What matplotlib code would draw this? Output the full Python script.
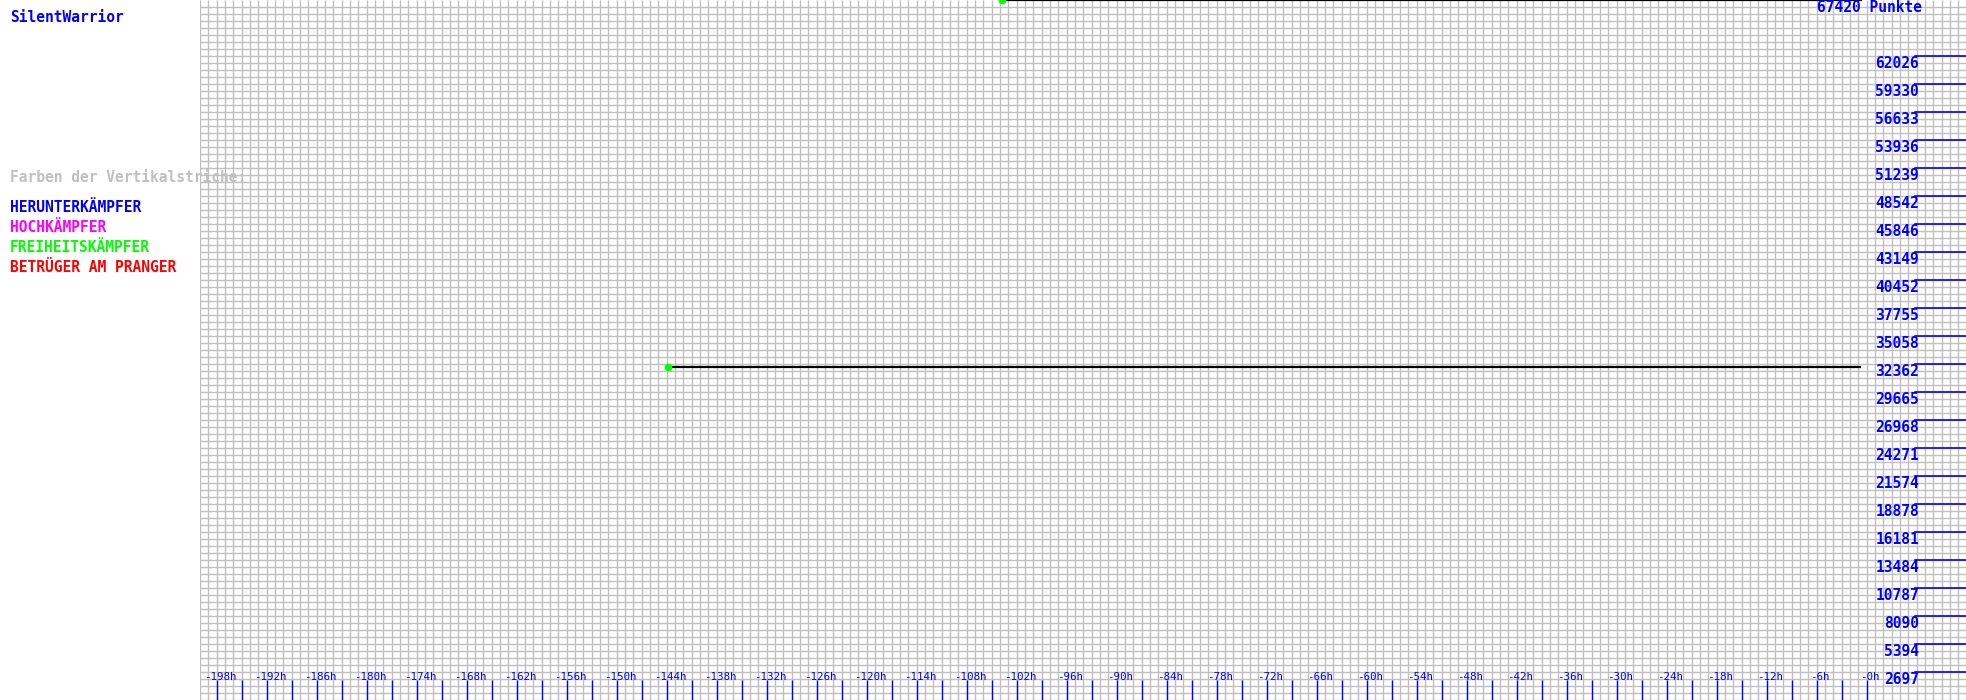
import matplotlib.pyplot as plt
import matplotlib.transforms as mtransforms
import numpy as np

# Player and score
player = "SilentWarrior"
max_points = 67420

# score segments (hours before now, points)
seg_start_h = [-143.8, -103.7]
seg_end_h = [-0.7, -0.5]
seg_points = [32100, 67420]

# right-hand scale labels
y_labels = [2697, 5394, 8090, 10787, 13484, 16181, 18878, 21574, 24271, 26968,
            29665, 32362, 35058, 37755, 40452, 43149, 45846, 48542, 51239,
            53936, 56633, 59330, 62026]

# hour labels along the bottom
x_labels = list(range(-198, 1, 6))

legend_title = "Farben der Vertikalstriche:"
legend_items = ["HERUNTERKÄMPFER", "HOCHKÄMPFER", "FREIHEITSKÄMPFER", "BETRÜGER AM PRANGER"]
legend_colors = ["#0000ff", "#ff00ff", "#00ff00", "#ff0000"]

W, H = 1966, 700
fig = plt.figure(figsize=(19.66, 7.0), dpi=100)
ax = fig.add_axes([200 / W, 0, 1 - 200 / W, 1])
x_min, x_max = -200, -200 + (W - 200) / 8.3333
ax.set_xlim(x_min, x_max)
ax.set_ylim(0, max_points)
ax.axis("off")

mono = "DejaVu Sans Mono"
grid_c = "#c0c0c0"

# background grid: one line per hour, four per scale step
ax.vlines(np.arange(x_min, x_max, 1), 0, max_points, color=grid_c, lw=1.0, zorder=1)
y_step = max_points / 25
ax.hlines(np.arange(0, max_points, y_step / 4), x_min, x_max, color=grid_c, lw=1.0, zorder=1)

# score lines with start marker
for h0, h1, p in zip(seg_start_h, seg_end_h, seg_points):
    ax.plot([h0, h1], [p, p], color="black", lw=1.6, zorder=3, solid_capstyle="butt")
    ax.plot([h0], [p], "o", color="#00ff00", ms=4.5, zorder=4)

# right scale
xt = ax.get_yaxis_transform()
lab_off = mtransforms.offset_copy(xt, fig=fig, y=-7.5, units="dots")
for v in y_labels:
    ax.plot([0.971, 1.0], [v, v], color="#0000ff", lw=1.2, transform=xt, zorder=3, clip_on=False)
    ax.text(0.9735, v, str(v), transform=lab_off, ha="right", va="center",
            color="#0000ff", family=mono, fontsize=10.5, fontweight="bold", zorder=5)
ax.text(0.975, 1 - 7 / H, f"{max_points} Punkte", transform=ax.transAxes, ha="right",
        va="center", color="#0000ff", family=mono, fontsize=10.5, fontweight="bold", zorder=5)

# bottom hour ticks and labels
bt = ax.get_xaxis_transform()
ax.vlines(np.arange(-198, 1, 3), 0, 20 / H, color="#0000ff", lw=1.0, transform=bt, zorder=3)
for h in x_labels:
    lab = f"-{abs(h)}h"
    ax.text(h + 0.4, 1 - 677.5 / H, lab, transform=bt, ha="center", va="center",
            color="#0000ff", family=mono, fontsize=7.8, zorder=5)

# left side texts
fig.text(10 / W, 1 - 18 / H, player, color="#0000ff", family=mono, fontsize=10.5,
         fontweight="bold", va="center")
fig.text(10 / W, 1 - 178 / H, legend_title, color=grid_c, family=mono, fontsize=10.5,
         fontweight="bold", va="center")
for i, (t, c) in enumerate(zip(legend_items, legend_colors)):
    fig.text(10 / W, 1 - (208 + 20 * i) / H, t, color=c, family=mono, fontsize=10.5,
             fontweight="bold", va="center")

fig.savefig("out.png", dpi=100)
